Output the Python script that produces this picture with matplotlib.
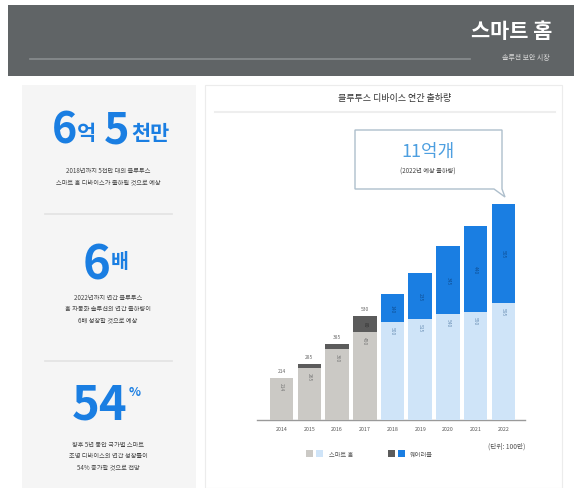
import matplotlib
matplotlib.use("Agg")
import matplotlib.pyplot as plt
from matplotlib.patches import Rectangle, Polygon

plt.rcParams['font.family'] = ['Noto Sans CJK KR', 'DejaVu Sans']

W, H = 574, 489

# data (unit: 1,000,000)
years = ['2014', '2015', '2016', '2017', '2018', '2019', '2020', '2021', '2022']
smart_home = [214, 265, 360, 450, 500, 515, 540, 550, 595]
wearable = [0, 20, 25, 80, 140, 235, 345, 440, 505]
forecast_from = 4  # 2018 onward are forecasts

BLUE = '#1a7ee2'
HEADER = '#606466'


def fx(x):
    return x / W


def fy(y):
    return 1 - y / H


fig = plt.figure(figsize=(W / 100, H / 100), dpi=100)
fig.patch.set_facecolor('white')


def rect(x0, y0, x1, y1, z=-1, **kw):
    fig.patches.append(Rectangle((fx(x0), fy(y1)), fx(x1) - fx(x0), fy(y0) - fy(y1),
                                 transform=fig.transFigure, zorder=z, **kw))


def hline(x0, x1, y, color, lw):
    fig.lines.append(plt.Line2D([fx(x0), fx(x1)], [fy(y), fy(y)], transform=fig.transFigure,
                                color=color, lw=lw, zorder=2))


def text(x, y, s, **kw):
    fig.text(fx(x), fy(y), s, **kw)


# header band
rect(8, 6, 574, 77, facecolor=HEADER, edgecolor='none')
hline(30, 470, 60, '#8a8e90', 1.2)
text(552, 31, '스마트 홈', color='white', fontsize=15, ha='right', va='center', fontweight='bold')
text(550, 58, '솔루션 보안 시장', color='#d8d8d8', fontsize=5, ha='right', va='center')

# panels
rect(22, 86, 196, 489, facecolor='#f5f5f5', edgecolor='none')
rect(205, 86, 562, 489, facecolor='white', edgecolor='#ececec', lw=0.8)

# left panel highlights
text(64, 130, '6', color=BLUE, fontsize=31, ha='center', va='center', fontweight='bold')
text(86, 134, '억', color=BLUE, fontsize=15, ha='center', va='center', fontweight='bold')
text(117, 130, '5', color=BLUE, fontsize=31, ha='center', va='center', fontweight='bold')
text(150, 134, '천만', color=BLUE, fontsize=15, ha='center', va='center', fontweight='bold')
text(108, 171, '2018년까지 5천만 대의 블루투스', fontsize=4.5, color='#444444', ha='center', va='center')
text(108, 182, '스마트 홈 디바이스가 출하될 것으로 예상', fontsize=4.5, color='#444444', ha='center', va='center')
hline(45, 172, 215, '#e2e2e2', 1.2)

text(97, 265, '6', color=BLUE, fontsize=34, ha='center', va='center', fontweight='bold')
text(120, 262, '배', color=BLUE, fontsize=14, ha='center', va='center', fontweight='bold')
text(108, 298, '2022년까지 연간 블루투스', fontsize=4.5, color='#444444', ha='center', va='center')
text(108, 309, '홈 자동화 솔루션의 연간 출하량이', fontsize=4.5, color='#444444', ha='center', va='center')
text(108, 320, '6배 성장할 것으로 예상', fontsize=4.5, color='#444444', ha='center', va='center')
hline(45, 172, 362, '#e2e2e2', 1.2)

text(100, 406, '54', color=BLUE, fontsize=34, ha='center', va='center', fontweight='bold')
text(135, 393, '%', color=BLUE, fontsize=9, ha='center', va='center', fontweight='bold')
text(108, 445, '향후 5년 동안 국가별 스마트', fontsize=4.5, color='#444444', ha='center', va='center')
text(108, 456, '조명 디바이스의 연간 성장률이', fontsize=4.5, color='#444444', ha='center', va='center')
text(108, 467, '54% 증가할 것으로 전망', fontsize=4.5, color='#444444', ha='center', va='center')

# chart title
text(395, 98, '블루투스 디바이스 연간 출하량', fontsize=6.5, color='#333333', ha='center', va='center')
hline(215, 555, 113, '#eeeeee', 1.5)

# callout
fig.patches.append(Polygon([(fx(355), fy(131)), (fx(502), fy(131)), (fx(502), fy(190)),
                            (fx(505), fy(198)), (fx(494), fy(190)), (fx(355), fy(190))],
                           closed=True, transform=fig.transFigure, facecolor='white',
                           edgecolor='#aebfcc', lw=1.0, zorder=1))
text(428, 152, '11억개', color='#4d9fe0', fontsize=13, ha='center', va='center')
text(428, 172, '(2022년 예상 출하량)', color='#444444', fontsize=4.5, ha='center', va='center')

# bar chart
ax = fig.add_axes([fx(265), fy(421), fx(520) - fx(265), fy(205) - fy(421)])
ax.set_zorder(3)
ax.set_xlim(-0.6, len(years) - 0.4)
ax.set_ylim(0, 1100)
ax.axis('off')

x = range(len(years))
light_colors = ['#cbc9c5' if i < forecast_from else '#cfe4f8' for i in x]
dark_colors = ['#5b5b5b' if i < forecast_from else BLUE for i in x]
ax.bar(x, smart_home, width=0.85, color=light_colors)
ax.bar(x, wearable, width=0.85, bottom=smart_home, color=dark_colors)

for i in x:
    total = smart_home[i] + wearable[i]
    if i < forecast_from:
        ax.text(i, total + 25, str(total), fontsize=3.5, color='#666666', ha='center', va='bottom')
    ax.text(i, smart_home[i] - 20, str(smart_home[i]), fontsize=3.5, rotation=270,
            color='#777777' if i < forecast_from else '#6a8fb5', ha='center', va='top')
    if wearable[i] > 60:
        ax.text(i, smart_home[i] + wearable[i] / 2, str(wearable[i]), fontsize=3.5, rotation=270,
                color='#303030' if i < forecast_from else '#0e4f95', ha='center', va='center')
    ax.text(i, -30, years[i], fontsize=3.8, color='#555555', ha='center', va='top')

hline(257, 525, 421, '#9a9a9a', 1.0)

# legend
rect(306, 451, 313, 458, z=2, facecolor='#cbc9c5', edgecolor='none')
rect(316, 451, 323, 458, z=2, facecolor='#cfe4f8', edgecolor='none')
text(329, 455, '스마트 홈', fontsize=4.5, color='#555555', ha='left', va='center')
rect(388, 451, 395, 458, z=2, facecolor='#5b5b5b', edgecolor='none')
rect(398, 451, 405, 458, z=2, facecolor=BLUE, edgecolor='none')
text(410, 455, '웨어러블', fontsize=4.5, color='#555555', ha='left', va='center')
text(525, 447, '(단위: 100만)', fontsize=4.8, color='#555555', ha='right', va='center')

fig.savefig('out.png', dpi=100)
